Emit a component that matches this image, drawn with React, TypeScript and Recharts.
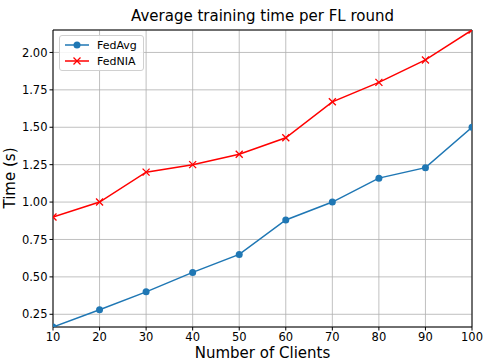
import React from "react";
import { LineChart, Line, XAxis, YAxis, CartesianGrid, ReferenceLine } from "recharts";

const clients = [10, 20, 30, 40, 50, 60, 70, 80, 90, 100];
const fedAvg = [0.165, 0.28, 0.4, 0.53, 0.65, 0.88, 1.0, 1.16, 1.23, 1.5];
const fedNIA = [0.9, 1.0, 1.2, 1.25, 1.32, 1.43, 1.67, 1.8, 1.95, 2.15];
const yTicks = [0.25, 0.5, 0.75, 1.0, 1.25, 1.5, 1.75, 2.0];

const data = clients.map((c, i) => ({ c, fedAvg: fedAvg[i], fedNIA: fedNIA[i] }));

const FONT = "DejaVu Sans, sans-serif";
const BLUE = "#1f77b4";
const RED = "#ff0000";

const XDot = (props: any) => {
  const { cx, cy } = props;
  if (cx == null || cy == null) return null;
  const s = 3.5;
  return (
    <g>
      <line x1={cx - s} y1={cy - s} x2={cx + s} y2={cy + s} stroke={RED} strokeWidth={1.3} />
      <line x1={cx - s} y1={cy + s} x2={cx + s} y2={cy - s} stroke={RED} strokeWidth={1.3} />
    </g>
  );
};

const LegendBox = () => (
  <div
    style={{
      position: "absolute",
      left: 59,
      top: 35,
      zIndex: 5,
      border: "1px solid #d0d0d0",
      borderRadius: 3,
      background: "rgba(255,255,255,0.85)",
      padding: "1px 6px 1px 4px",
      fontFamily: FONT,
      fontSize: 11,
      lineHeight: "15px",
      color: "#000",
    }}
  >
    {[
      { name: "FedAvg", color: BLUE, m: "o" },
      { name: "FedNIA", color: RED, m: "x" },
    ].map((e) => (
      <div key={e.name} style={{ display: "flex", alignItems: "center", height: 16 }}>
        <svg width={26} height={14} style={{ marginRight: 7 }}>
          <line x1={1} y1={7} x2={25} y2={7} stroke={e.color} strokeWidth={1.5} />
          {e.m === "o" ? (
            <circle cx={13} cy={7} r={3.5} fill={e.color} />
          ) : (
            <g>
              <line x1={9.5} y1={3.5} x2={16.5} y2={10.5} stroke={e.color} strokeWidth={1.3} />
              <line x1={9.5} y1={10.5} x2={16.5} y2={3.5} stroke={e.color} strokeWidth={1.3} />
            </g>
          )}
        </svg>
        <span>{e.name}</span>
      </div>
    ))}
  </div>
);

export default function App() {
  return (
    <div style={{ position: "absolute", left: 0, top: 0, width: 485, height: 362, background: "#fff" }}>
      <div
        style={{
          position: "absolute",
          left: 53,
          width: 419,
          top: 7,
          textAlign: "center",
          fontFamily: FONT,
          fontSize: 15,
          color: "#000",
        }}
      >
        Average training time per FL round
      </div>
      <div
        style={{
          position: "absolute",
          left: 53,
          width: 419,
          top: 345,
          textAlign: "center",
          fontFamily: FONT,
          fontSize: 15,
          color: "#000",
          lineHeight: "17px",
        }}
      >
        Number of Clients
      </div>
      <div
        style={{
          position: "absolute",
          left: 10,
          top: 178,
          transform: "translate(-50%, -50%) rotate(-90deg)",
          fontFamily: FONT,
          fontSize: 15,
          color: "#000",
          whiteSpace: "nowrap",
        }}
      >
        Time (s)
      </div>
      <LineChart width={485} height={362} data={data} margin={{ top: 30, right: 13, bottom: 0, left: 0 }}>
        <CartesianGrid stroke="#b0b0b0" strokeWidth={0.8} />
        <XAxis
          dataKey="c"
          type="number"
          domain={[10, 100]}
          ticks={clients}
          allowDataOverflow
          height={35}
          stroke="#000"
          tickLine={{ stroke: "#000" }}
          tickSize={3.5}
          tick={{ fontFamily: FONT, fontSize: 11.5, fill: "#000" }}
          interval={0}
        />
        <YAxis
          type="number"
          domain={[0.165, 2.15]}
          ticks={yTicks}
          allowDataOverflow
          width={53}
          stroke="#000"
          tickLine={{ stroke: "#000" }}
          tickSize={3.5}
          tickFormatter={(v: number) => v.toFixed(2)}
          tick={{ fontFamily: FONT, fontSize: 11.5, fill: "#000" }}
          interval={0}
        />
        <ReferenceLine y={2.15} stroke="#000" strokeWidth={1} />
        <ReferenceLine x={100} stroke="#000" strokeWidth={1} />
        <Line
          dataKey="fedAvg"
          stroke={BLUE}
          strokeWidth={1.5}
          dot={{ r: 3.5, fill: BLUE, stroke: BLUE, strokeWidth: 0 }}
          activeDot={false}
          isAnimationActive={false}
        />
        <Line
          dataKey="fedNIA"
          stroke={RED}
          strokeWidth={1.5}
          dot={<XDot />}
          activeDot={false}
          isAnimationActive={false}
        />
      </LineChart>
      <LegendBox />
    </div>
  );
}
